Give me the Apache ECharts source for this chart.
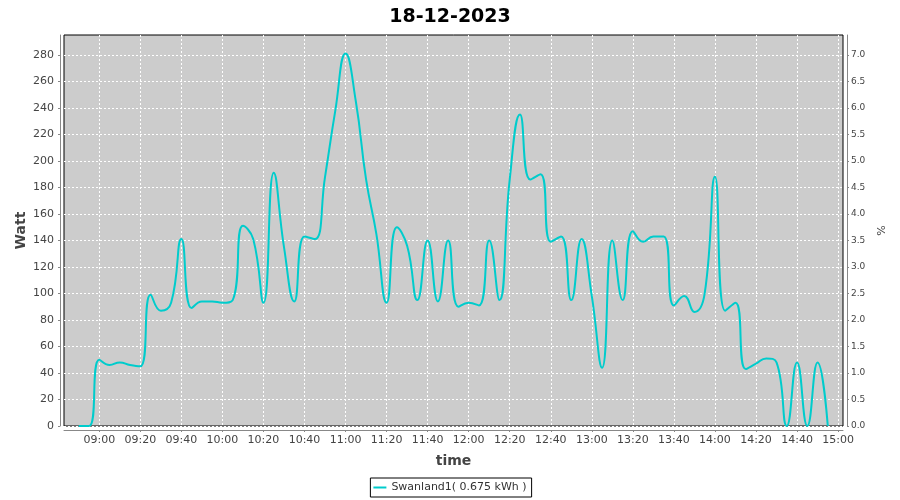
<!DOCTYPE html>
<html><head><meta charset="utf-8">
<script src="https://cdn.jsdelivr.net/npm/echarts@6/dist/echarts.min.js"></script>
<style>html,body{margin:0;padding:0;background:#fff}#c{width:900px;height:500px}</style>
</head><body><div id="c"></div>
<script>
const times = ['08:50','08:55','09:00','09:05','09:10','09:15','09:20','09:25','09:30','09:35',
  '09:40','09:45','09:50','09:55','10:00','10:05','10:10','10:15','10:20','10:25',
  '10:30','10:35','10:40','10:45','10:50','10:55','11:00','11:05','11:10','11:15',
  '11:20','11:25','11:30','11:35','11:40','11:45','11:50','11:55','12:00','12:05',
  '12:10','12:15','12:20','12:25','12:30','12:35','12:40','12:45','12:50','12:55',
  '13:00','13:05','13:10','13:15','13:20','13:25','13:30','13:35','13:40','13:45',
  '13:50','13:55','14:00','14:05','14:10','14:15','14:20','14:25','14:30','14:35',
  '14:40','14:45','14:50','14:55'];
const watts = [0,0,50,46,48,46,45,99,87,93,
  141,89,94,94,93,95,151,141,93,191,
  135,94,143,141,188,238,281,245,186,145,
  93,150,136,95,140,94,140,90,93,91,
  140,95,186,235,186,190,139,143,95,141,
  98,44,140,95,147,139,143,143,91,98,
  86,100,188,87,93,43,47,51,48,0,
  48,0,48,0];
const xTickLabels = ['09:00','09:20','09:40','10:00','10:20','10:40','11:00','11:20','11:40','12:00',
  '12:20','12:40','13:00','13:20','13:40','14:00','14:20','14:40','15:00'];
const wattTicks = [0,20,40,60,80,100,120,140,160,180,200,220,240,260,280];
const pctTicks = [0,0.5,1,1.5,2,2.5,3,3.5,4,4.5,5,5.5,6,6.5,7];
const seriesName = 'Swanland1( 0.675 kWh )';
const titleText = '18-12-2023';

function toMin(s){const p=s.split(':');return (+p[0])*60+(+p[1]);}
function fmt(m){const h=Math.floor(m/60),mm=Math.round(m-h*60);return String(h).padStart(2,'0')+':'+String(mm).padStart(2,'0');}

const data = times.map((t,i)=>[toMin(t), watts[i]]);
const xTicks = xTickLabels.map(toMin);

const font = 'DejaVu Sans';
const chart = echarts.init(document.getElementById('c'), null, {renderer:'canvas'});
chart.setOption({
  animation:false,
  backgroundColor:'#ffffff',
  title:{text:titleText,left:'center',top:3,textStyle:{fontFamily:font,fontSize:19,fontWeight:'bold',color:'#000'}},
  grid:{left:64,right:57,top:35,bottom:74,show:true,backgroundColor:'#CCCCCC',borderColor:'#000',borderWidth:1},
  legend:{bottom:3,left:'center',icon:'rect',itemWidth:13,itemHeight:2,itemGap:4,
    backgroundColor:'#fff',borderColor:'#000',borderWidth:1,padding:[4,5,4,3],borderRadius:0,
    textStyle:{fontFamily:font,fontSize:11,color:'#333'},data:[seriesName]},
  xAxis:{type:'value',min:toMin('08:42')+0.8,max:toMin('15:02')+0.4,offset:4,
    name:'time',nameLocation:'middle',nameGap:24,
    nameTextStyle:{fontFamily:font,fontSize:14,fontWeight:'bold',color:'#444'},
    axisLine:{show:true,onZero:false,lineStyle:{color:'#888',width:1}},
    axisTick:{show:true,length:2,customValues:xTicks,lineStyle:{color:'#888'}},
    axisLabel:{customValues:xTicks,margin:5,fontFamily:font,fontSize:11,color:'#444',formatter:v=>fmt(v)},
    splitLine:{show:true,lineStyle:{color:'#fff',type:[2,2],width:1}}},
  yAxis:[{type:'value',min:0,max:295,offset:4,position:'left',
    name:'Watt',nameLocation:'middle',nameGap:32,nameMoveOverlap:false,
    nameTextStyle:{fontFamily:font,fontSize:14,fontWeight:'bold',color:'#444'},
    axisLine:{show:true,lineStyle:{color:'#888',width:1}},
    axisTick:{show:true,length:2,customValues:wattTicks,lineStyle:{color:'#888'}},
    axisLabel:{customValues:wattTicks,margin:6,fontFamily:font,fontSize:11,color:'#444'},
    splitLine:{show:true,lineStyle:{color:'#fff',type:[2,2],width:1}}},
   {type:'value',min:0,max:7.375,offset:4,position:'right',
    name:'%',nameLocation:'middle',nameGap:27,
    nameTextStyle:{fontFamily:font,fontSize:11,color:'#444'},
    axisLine:{show:true,lineStyle:{color:'#888',width:1}},
    axisTick:{show:true,length:2,customValues:pctTicks,lineStyle:{color:'#888'}},
    axisLabel:{customValues:pctTicks,margin:4,fontFamily:font,fontSize:9,color:'#444',formatter:v=>v.toFixed(1)},
    splitLine:{show:false}}],
  series:[{name:seriesName,type:'line',data:data,smooth:0.5,showSymbol:false,symbol:'none',
    lineStyle:{color:'#00CCCC',width:2},itemStyle:{color:'#00CCCC'},clip:true}]
});
</script></body></html>
